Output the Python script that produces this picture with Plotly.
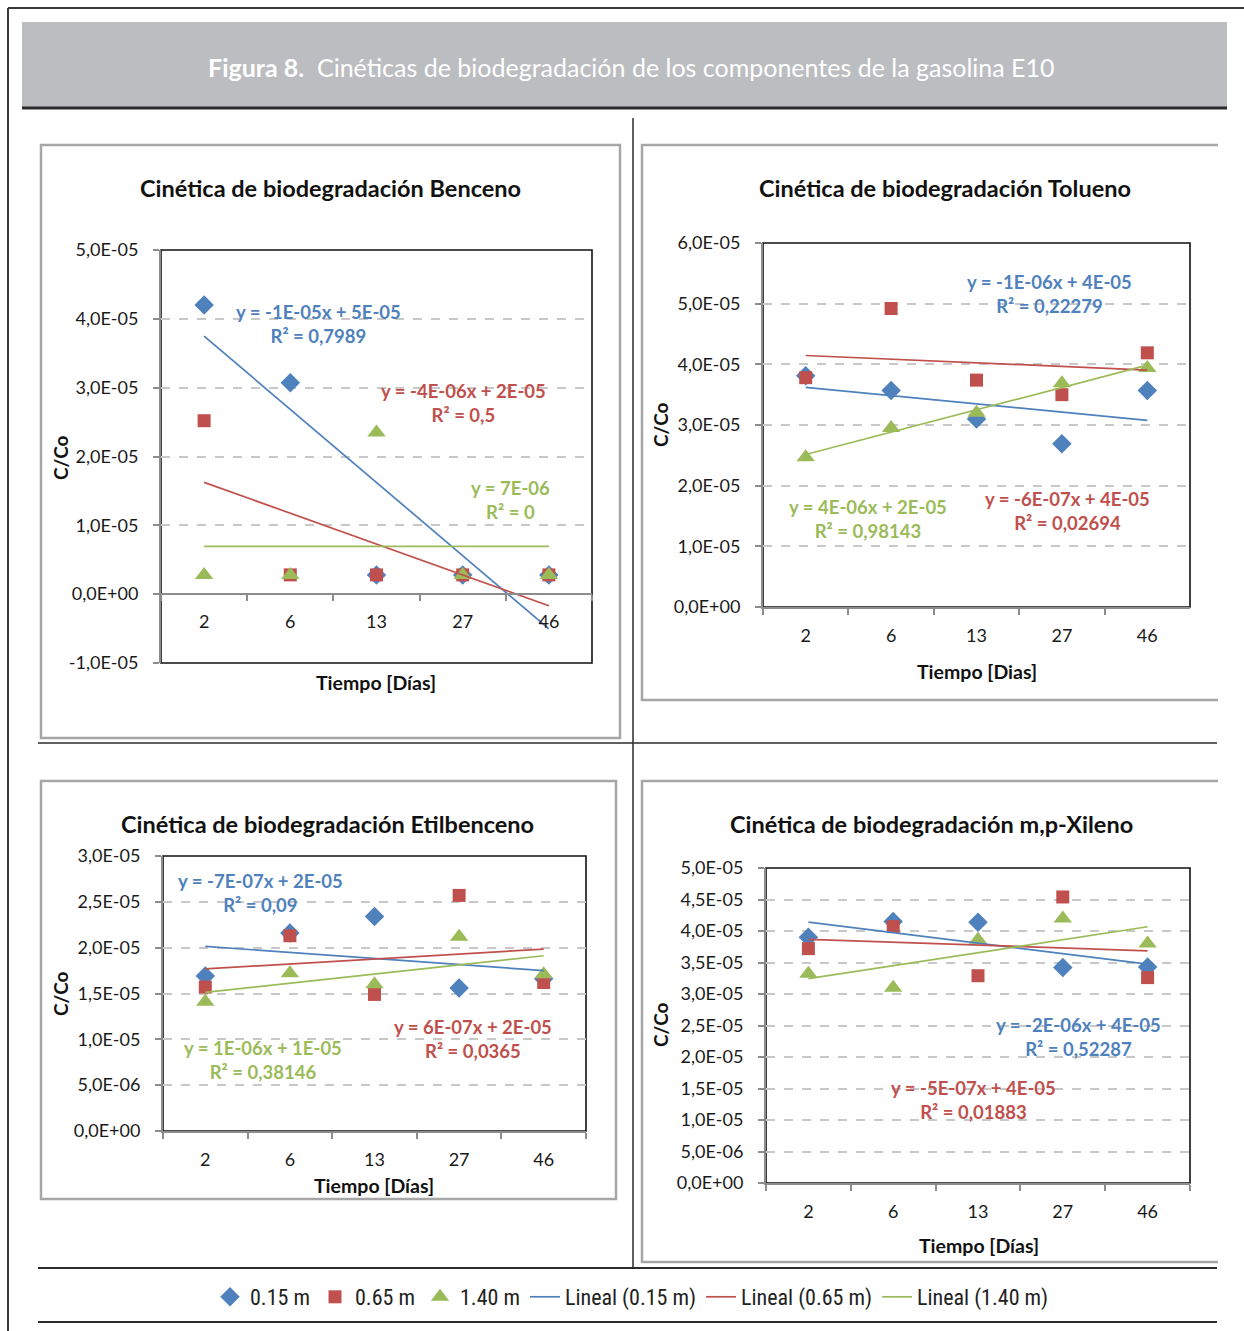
import numpy as np
import plotly.graph_objects as go

# ---------------- data ----------------
days = ["2", "6", "13", "27", "46"]
series_names = ["0.15 m", "0.65 m", "1.40 m"]
trend_names = ["Lineal (0.15 m)", "Lineal (0.65 m)", "Lineal (1.40 m)"]

benceno_015 = [4.20e-5, 3.07e-5, 2.8e-6, 2.8e-6, 2.8e-6]
benceno_065 = [2.52e-5, 2.8e-6, 2.8e-6, 2.8e-6, 2.8e-6]
benceno_140 = [2.8e-6, 2.8e-6, 2.35e-5, 2.8e-6, 2.8e-6]

tolueno_015 = [3.81e-5, 3.57e-5, 3.10e-5, 2.69e-5, 3.57e-5]
tolueno_065 = [3.78e-5, 4.92e-5, 3.74e-5, 3.50e-5, 4.19e-5]
tolueno_140 = [2.47e-5, 2.95e-5, 3.20e-5, 3.69e-5, 3.94e-5]

etil_015 = [1.69e-5, 2.16e-5, 2.34e-5, 1.56e-5, 1.66e-5]
etil_065 = [1.57e-5, 2.13e-5, 1.49e-5, 2.57e-5, 1.62e-5]
etil_140 = [1.41e-5, 1.72e-5, 1.60e-5, 2.12e-5, 1.71e-5]

xileno_015 = [3.90e-5, 4.15e-5, 4.14e-5, 3.42e-5, 3.43e-5]
xileno_065 = [3.72e-5, 4.07e-5, 3.29e-5, 4.54e-5, 3.26e-5]
xileno_140 = [3.32e-5, 3.10e-5, 3.86e-5, 4.20e-5, 3.80e-5]

titles = ["Cinética de biodegradación Benceno", "Cinética de biodegradación Tolueno",
          "Cinética de biodegradación Etilbenceno", "Cinética de biodegradación m,p-Xileno"]
xtitles = ["Tiempo [Días]", "Tiempo [Dias]", "Tiempo [Días]", "Tiempo [Días]"]
ytitle = "C/Co"

benceno_ticks = [-1e-5, 0, 1e-5, 2e-5, 3e-5, 4e-5, 5e-5]
tolueno_ticks = [0, 1e-5, 2e-5, 3e-5, 4e-5, 5e-5, 6e-5]
etil_ticks = [0, 5e-6, 1e-5, 1.5e-5, 2e-5, 2.5e-5, 3e-5]
xileno_ticks = [0, 5e-6, 1e-5, 1.5e-5, 2e-5, 2.5e-5, 3e-5, 3.5e-5, 4e-5, 4.5e-5, 5e-5]

benceno_eq = [("y = -1E-05x + 5E-05", "R² = 0,7989"), ("y = -4E-06x + 2E-05", "R² = 0,5"), ("y = 7E-06", "R² = 0")]
tolueno_eq = [("y = -1E-06x + 4E-05", "R² = 0,22279"), ("y = -6E-07x + 4E-05", "R² = 0,02694"), ("y = 4E-06x + 2E-05", "R² = 0,98143")]
etil_eq = [("y = -7E-07x + 2E-05", "R² = 0,09"), ("y = 6E-07x + 2E-05", "R² = 0,0365"), ("y = 1E-06x + 1E-05", "R² = 0,38146")]
xileno_eq = [("y = -2E-06x + 4E-05", "R² = 0,52287"), ("y = -5E-07x + 4E-05", "R² = 0,01883")]

header_bold = "Figura 8."
header_text = "Cinéticas de biodegradación de los componentes de la gasolina E10"

# ---------------- style ----------------
W, H = 1244, 1331
COLORS = ["#4F81BD", "#C0504D", "#9BBB59"]
SYMBOLS = ["diamond", "square", "triangle-up"]
SIZES = [15, 13, 16]
FONT = "Lato, 'Open Sans', sans-serif"
LEGFONT = "'Liberation Sans Narrow', 'Roboto Condensed', Roboto, sans-serif"
AXCOL = "#8c8c8c"


def X(px):
    return px / W


def Y(py):
    return 1 - py / H


def fmt(v):
    return f"{v:.1E}".replace(".", ",")


panels = [
    dict(data=[benceno_015, benceno_065, benceno_140], ticks=benceno_ticks, rng=[-1e-5, 5e-5],
         box=(161, 592, 250, 663), zero_axis=True),
    dict(data=[tolueno_015, tolueno_065, tolueno_140], ticks=tolueno_ticks, rng=[0, 6e-5],
         box=(763, 1190, 243, 607), zero_axis=False),
    dict(data=[etil_015, etil_065, etil_140], ticks=etil_ticks, rng=[0, 3e-5],
         box=(163, 586, 856, 1131), zero_axis=False),
    dict(data=[xileno_015, xileno_065, xileno_140], ticks=xileno_ticks, rng=[0, 5e-5],
         box=(766, 1190, 868, 1183), zero_axis=False),
]

fig = go.Figure()
layout = {}
shapes = []
annotations = []


def text(px, py, txt, size, color, **kw):
    d = dict(x=X(px), y=Y(py), xref="paper", yref="paper", showarrow=False,
             xanchor="center", yanchor="middle", text=txt,
             font=dict(family=FONT, size=size, color=color))
    d.update(kw)
    annotations.append(d)


for i, p in enumerate(panels):
    sfx = "" if i == 0 else str(i + 1)
    xa, ya = "x" + sfx, "y" + sfx
    x0, x1, y0, y1 = p["box"]
    for k in range(3):
        vals = p["data"][k]
        fig.add_trace(go.Scatter(
            x=days, y=vals, mode="markers", name=series_names[k],
            marker=dict(symbol=SYMBOLS[k], size=SIZES[k], color=COLORS[k]),
            legendgroup=series_names[k], showlegend=(i == 0), xaxis=xa, yaxis=ya,
            cliponaxis=False))
    for k in range(3):
        vals = p["data"][k]
        idx = np.arange(len(days))
        b, a = np.polyfit(idx, vals, 1)
        fig.add_trace(go.Scatter(
            x=days, y=a + b * idx, mode="lines", name=trend_names[k],
            line=dict(color=COLORS[k], width=1.7),
            legendgroup=trend_names[k], showlegend=(i == 0), xaxis=xa, yaxis=ya,
            cliponaxis=False))

    ydom = [Y(y1), Y(y0)]
    xaxis = dict(domain=[X(x0), X(x1)], type="category", categoryorder="array",
                 categoryarray=days, range=[-0.5, 4.5], tickson="boundaries",
                 ticks="outside", ticklen=6, tickwidth=1.5, tickcolor=AXCOL,
                 showgrid=False, zeroline=False, showline=True, linecolor=AXCOL, linewidth=2,
                 tickfont=dict(family=FONT, size=18, color="#1a1a1a"),
                 ticklabelstandoff=11, fixedrange=True, automargin=False)
    if p["zero_axis"]:
        r = p["rng"]
        frac = (0 - r[0]) / (r[1] - r[0])
        xaxis.update(anchor="free", position=ydom[0] + frac * (ydom[1] - ydom[0]))
    else:
        xaxis.update(anchor=ya)
    yaxis = dict(domain=ydom, range=p["rng"], tickvals=p["ticks"],
                 ticktext=[fmt(v) for v in p["ticks"]], anchor=xa,
                 showgrid=True, gridcolor="#c8c8c8", griddash="dash", gridwidth=2,
                 zeroline=False, showline=True, linecolor=AXCOL, linewidth=2,
                 ticks="outside", ticklen=6, tickwidth=1.5, tickcolor=AXCOL,
                 tickfont=dict(family=FONT, size=18, color="#1a1a1a"),
                 ticklabelstandoff=11, fixedrange=True, automargin=False)
    layout["xaxis" + sfx] = xaxis
    layout["yaxis" + sfx] = yaxis
    shapes.append(dict(type="rect", xref="paper", yref="paper", x0=X(x0), x1=X(x1),
                       y0=Y(y1), y1=Y(y0), line=dict(color="#111111", width=1.6), layer="below"))

# ---- header & frames ----
shapes += [
    dict(type="line", xref="paper", yref="paper", x0=X(8), x1=X(1244), y0=Y(8), y1=Y(8),
         line=dict(color="#3a3a3a", width=2)),
    dict(type="line", xref="paper", yref="paper", x0=X(8), x1=X(8), y0=Y(8), y1=Y(1331),
         line=dict(color="#3a3a3a", width=2)),
    dict(type="rect", xref="paper", yref="paper", x0=X(22), x1=X(1227), y0=Y(107), y1=Y(22),
         fillcolor="#bcbdc0", line=dict(width=0), layer="below"),
    dict(type="line", xref="paper", yref="paper", x0=X(22), x1=X(1227), y0=Y(108), y1=Y(108),
         line=dict(color="#2b2b2b", width=3)),
    dict(type="line", xref="paper", yref="paper", x0=X(633), x1=X(633), y0=Y(118), y1=Y(1268),
         line=dict(color="#2b2b2b", width=1.5)),
    dict(type="line", xref="paper", yref="paper", x0=X(38), x1=X(1217), y0=Y(743), y1=Y(743),
         line=dict(color="#2b2b2b", width=1.5)),
    dict(type="line", xref="paper", yref="paper", x0=X(38), x1=X(1217), y0=Y(1268), y1=Y(1268),
         line=dict(color="#2b2b2b", width=2)),
    dict(type="line", xref="paper", yref="paper", x0=X(38), x1=X(1217), y0=Y(1322), y1=Y(1322),
         line=dict(color="#2b2b2b", width=2)),
]
GRAYBOX = dict(color="#a6a6a6", width=2.5)
for (bx0, bx1, by0, by1) in [(41, 620, 145, 738), (41, 616, 781, 1199)]:
    shapes.append(dict(type="rect", xref="paper", yref="paper", x0=X(bx0), x1=X(bx1),
                       y0=Y(by1), y1=Y(by0), line=GRAYBOX, layer="below"))
for (bx0, bx1, by0, by1) in [(642, 1218, 145, 700), (642, 1218, 781, 1262)]:
    shapes.append(dict(type="path", xref="paper", yref="paper",
                       path=f"M {X(bx1)},{Y(by0)} L {X(bx0)},{Y(by0)} L {X(bx0)},{Y(by1)} L {X(bx1)},{Y(by1)}",
                       line=GRAYBOX, layer="below"))

# ---- text ----
text(631, 67, f"<b>{header_bold}</b>  {header_text}", 25, "white")

title_pos = [(330, 188), (945, 188), (328, 824), (931, 824)]
xtitle_pos = [(376, 682), (977, 671), (374, 1185), (979, 1245)]
ytitle_pos = [(60, 457), (660, 425), (60, 993), (660, 1025)]
for i in range(4):
    text(*title_pos[i], f"<b>{titles[i]}</b>", 23.5, "#111111")
    text(*xtitle_pos[i], f"<b>{xtitles[i]}</b>", 19.5, "#111111")
    text(*ytitle_pos[i], f"<b>{ytitle}</b>", 19, "#111111", textangle=-90)

eq_sets = [
    (benceno_eq, [(318, 324), (463, 403), (510, 500)], [0, 1, 2]),
    (tolueno_eq, [(1049, 294), (1067, 511), (868, 519)], [0, 1, 2]),
    (etil_eq, [(260, 893), (473, 1039), (263, 1060)], [0, 1, 2]),
    (xileno_eq, [(1078, 1037), (973, 1100)], [0, 1]),
]
for eqs, poss, cols in eq_sets:
    for (l1, l2), (ex, ey), c in zip(eqs, poss, cols):
        text(ex, ey, f"<b>{l1}<br>{l2}</b>", 18.5, COLORS[c], align="center")

fig.update_layout(
    template="none",
    width=W, height=H, autosize=False,
    margin=dict(l=0, r=0, t=0, b=0, pad=0, autoexpand=False),
    paper_bgcolor="white", plot_bgcolor="rgba(0,0,0,0)",
    shapes=shapes, annotations=annotations,
    legend=dict(orientation="h", x=X(632), xanchor="center", y=Y(1297), yanchor="middle",
                font=dict(family=LEGFONT, size=22, color="#222222"),
                bgcolor="rgba(0,0,0,0)", itemwidth=30, tracegroupgap=0),
    **layout,
)

fig.write_html("out.html", config={"displayModeBar": False},
               post_script="document.documentElement.style.margin='0';document.body.style.margin='0';document.body.style.padding='0';document.body.style.overflow='hidden';")
